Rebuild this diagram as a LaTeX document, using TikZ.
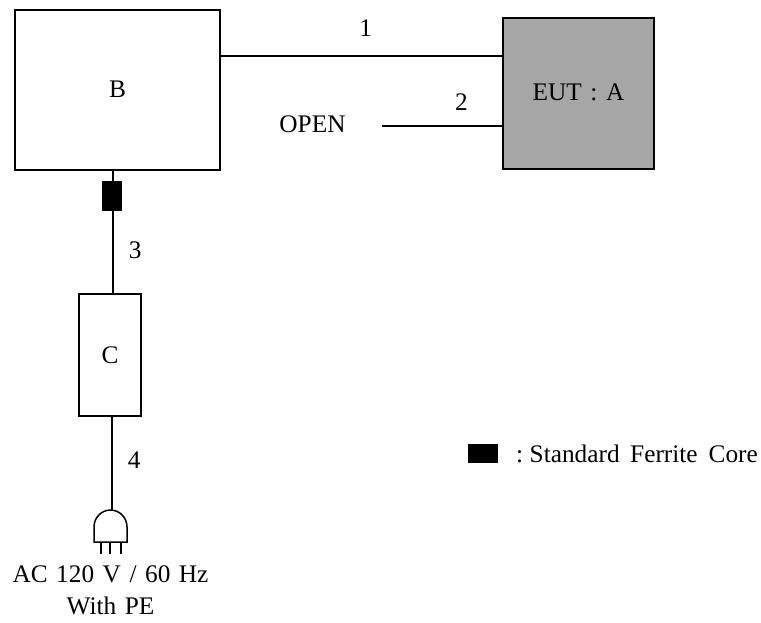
\documentclass[tikz,border=0pt]{standalone}
\usepackage{fontspec}
\setmainfont[WordSpace=1.35]{Liberation Serif}
\tikzset{
  unit/.style={draw, line width=1.5pt, inner sep=0pt},
  cable/.style={line width=1.5pt},
  core/.style={fill=black, inner sep=0pt, minimum width=20pt, minimum height=30pt},
  lbl/.style={inner sep=0pt, font=\fontsize{25.3}{32}\selectfont}
}
\begin{document}
\begin{tikzpicture}[x=1pt, y=-1pt]
\useasboundingbox (0,0) rectangle (761,622);
\coordinate[](OPENEND) at (382,126);
\coordinate[](PLUGTOP) at (112,510);

\node[unit, lbl, minimum width=205pt, minimum height=160pt] (B) at (117.5,90) {\raisebox{1pt}{B}};
\node[unit, lbl, fill=black!35, minimum width=151pt, minimum height=151pt] (EUT) at (578.5,93.5) {\raisebox{2pt}{EUT : A}};
\node[unit, lbl, minimum width=62pt, minimum height=122pt] (C) at (110,355) {C};
\node[core] (FC) at (112,196) {};
\node[core, minimum width=30pt, minimum height=19pt] (KEY) at (483,453.5) {};

\draw[cable] (B.east |- 0,56) -- (EUT.west |- 0,56) node[lbl, pos=0.515, above=19pt] (N1) {1};
\draw[cable] (OPENEND) -- (OPENEND -| EUT.west) node[lbl, pos=0.66, above=15pt] (N2) {2};
\draw[cable] (FC.north -| 113,0) -- (B.south -| 113,0);
\draw[cable] (FC.south -| 113,0) -- (C.north -| 113,0) node[lbl, pos=0.47, right=15pt] (N3) {3};
\draw[cable] (C.south -| 112,0) -- (PLUGTOP) node[lbl, pos=0.47, right=15pt] (N4) {4};

% plug
\draw[cable] (94,542) -- (94,527) arc (180:360:16.5 and 17) -- (127,542) -- cycle;
\draw[cable] (101,542) -- (101,554);
\draw[cable] (110,542) -- (110,554);
\draw[cable] (121,542) -- (121,554);

\node[lbl] (OPEN) at (312.5,124) {OPEN};
\node[lbl, anchor=west] (KEYTXT) at (516,454) {:\hspace{6.5pt}Standard\hspace{2pt} Ferrite\hspace{2.5pt} Core};
\node[lbl, align=center] (AC) at (110.5,590) {AC 120 V / 60 Hz\\With PE};
\end{tikzpicture}
\end{document}
